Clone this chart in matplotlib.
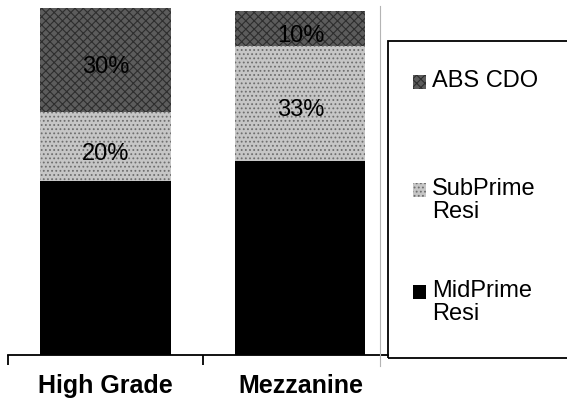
import matplotlib.pyplot as plt
from matplotlib.lines import Line2D
from matplotlib.patches import Rectangle

plt.rcParams['font.family'] = ['Liberation Sans', 'DejaVu Sans']
plt.rcParams['hatch.linewidth'] = 0.8

# data (percent of each tranche)
categories = ['High Grade', 'Mezzanine']
midprime = [50, 56]
subprime = [20, 33]
abs_cdo = [30, 10]
series_names = ['ABS CDO', 'SubPrime\nResi', 'MidPrime\nResi']

W, H = 567, 404


def fx(px):
    return px / W


def fy(py):
    return 1 - py / H


fig = plt.figure(figsize=(W / 100, H / 100), dpi=100)
ax = fig.add_axes([fx(8), fy(355), (380 - 8) / W, 355 / H])

x = range(len(categories))
bot2 = midprime
bot3 = [a + b for a, b in zip(midprime, subprime)]

b1 = ax.bar(x, midprime, width=0.667, color='black', lw=0)
b2 = ax.bar(x, subprime, width=0.667, bottom=bot2, color='#c6c6c6',
            edgecolor='#6e6e6e', hatch='....', lw=0)
b3 = ax.bar(x, abs_cdo, width=0.667, bottom=bot3, color='#5c5c5c',
            edgecolor='#2e2e2e', hatch='xxxx', lw=0)

labs = ax.bar_label(b2, labels=[f'{v}%' for v in subprime],
                    label_type='center', fontsize=17, color='black')
labs += ax.bar_label(b3, labels=[f'{v}%' for v in abs_cdo],
                     label_type='center', fontsize=17, color='black')
# the scanned labels sit a little below the segment centres
for t in labs:
    t.xyann = (0, -5)

ax.set_xlim(-0.5, 1.408)
ax.set_ylim(0, 102.3)
for s in ['top', 'left', 'right']:
    ax.spines[s].set_visible(False)
ax.spines['bottom'].set_bounds(-0.5, 1.449)
ax.spines['bottom'].set_linewidth(1.3)
ax.set_yticks([])
ax.set_xticks(list(x))
ax.set_xticklabels(categories, fontsize=18, fontweight='bold')
ax.tick_params(axis='x', which='major', length=0, pad=14)
ax.set_xticks([-0.5, 0.5], minor=True)
ax.tick_params(axis='x', which='minor', length=7, width=1.3, direction='out')

# thin grey plot-area edge
fig.add_artist(Line2D([fx(380), fx(380)], [fy(6), fy(366)],
                      color='#b4b4b4', lw=0.8))

# legend box running off the right edge
fig.add_artist(Rectangle((fx(388), fy(358)), 0.5, (358 - 41) / H,
                         transform=fig.transFigure, fill=False,
                         ec='black', lw=1.3))

legend_y = [82, 190, 292]
legend_fc = ['#5c5c5c', '#c6c6c6', 'black']
legend_ec = ['#2e2e2e', '#6e6e6e', 'black']
legend_hatch = ['xxxx', '....', None]
for name, yc, fc, ec, ht in zip(series_names, legend_y, legend_fc,
                                legend_ec, legend_hatch):
    fig.add_artist(Rectangle((fx(413), fy(yc + 7)), 13 / W, 14 / H,
                             transform=fig.transFigure, fc=fc, ec=ec,
                             hatch=ht, lw=0))
    fig.text(fx(432), fy(yc - 12), name, fontsize=17, va='top', ha='left',
             linespacing=1.05)

fig.savefig('out.png', dpi=100)
